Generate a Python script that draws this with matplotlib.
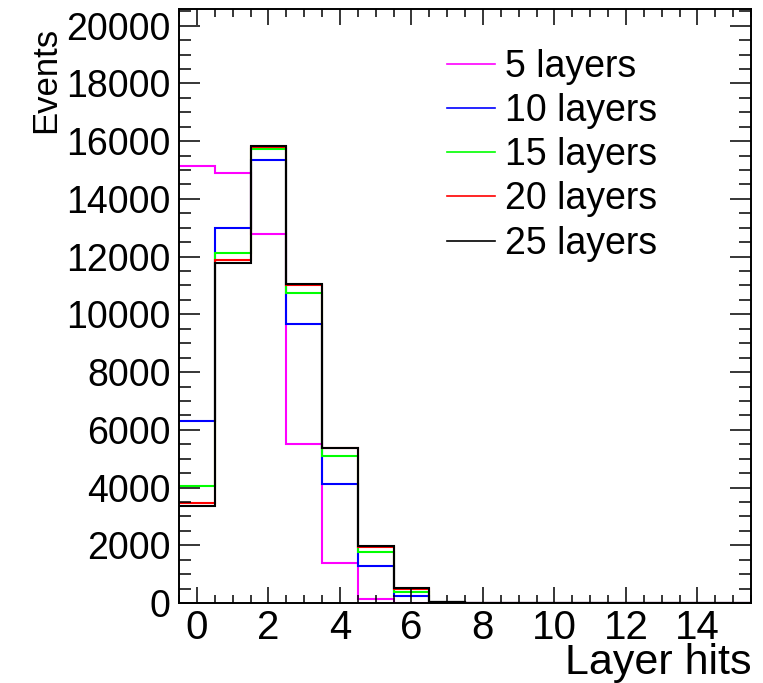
import matplotlib
matplotlib.use("Agg")
import matplotlib.pyplot as plt
from matplotlib.ticker import MultipleLocator
import numpy as np

# bin edges of the layer-hits histogram (unit bins centred on integers)
edges = np.arange(-0.5, 16.0, 1.0)

labels = ['5 layers', '10 layers', '15 layers', '20 layers', '25 layers']
colors = ['#ff00ff', '#0000ff', '#00ff00', '#ff0000', '#000000']

h5 = [15150, 14900, 12800, 5520, 1370, 140, 10, 0, 0, 0, 0, 0, 0, 0, 0, 0]
h10 = [6300, 13000, 15350, 9680, 4110, 1290, 240, 45, 0, 0, 0, 0, 0, 0, 0, 0]
h15 = [4050, 12120, 15730, 10750, 5080, 1780, 390, 40, 0, 0, 0, 0, 0, 0, 0, 0]
h20 = [3470, 11870, 15800, 11010, 5360, 1930, 480, 45, 0, 0, 0, 0, 0, 0, 0, 0]
h25 = [3370, 11770, 15840, 11040, 5370, 1960, 510, 45, 0, 0, 0, 0, 0, 0, 0, 0]

plt.rcParams['font.family'] = ['Liberation Sans', 'DejaVu Sans']

fig = plt.figure(figsize=(7.63, 6.83), dpi=100)
ax = fig.add_axes([0.2346, 0.1171, 0.7497, 0.869])

for h, c, lab in zip([h5, h10, h15, h20, h25], colors, labels):
    ax.stairs(h, edges, color=c, linewidth=1.5, label=lab, baseline=None)

ax.set_xlim(-0.5, 15.5)
ax.set_ylim(0, 20560)

ax.xaxis.set_major_locator(MultipleLocator(2))
ax.xaxis.set_minor_locator(MultipleLocator(0.5))
ax.yaxis.set_major_locator(MultipleLocator(2000))
ax.yaxis.set_minor_locator(MultipleLocator(500))

ax.tick_params(axis='both', which='both', direction='in', top=True, right=True, width=1.1)
ax.tick_params(axis='x', which='major', length=11.5, labelsize=29, pad=4)
ax.tick_params(axis='x', which='minor', length=6)
ax.tick_params(axis='y', which='major', length=15, labelsize=27, pad=6)
ax.tick_params(axis='y', which='minor', length=8.5)

for s in ax.spines.values():
    s.set_linewidth(1.4)

ax.set_xlabel('Layer hits', fontsize=31, loc='right')
ax.xaxis.set_label_coords(1.0, -0.1196)
ax.xaxis.label.set_va('baseline')
ax.set_ylabel('Events', fontsize=25, loc='top')
ax.yaxis.set_label_coords(-0.205, 0.971)

leg = ax.legend(loc='upper left', bbox_to_anchor=(0.4685, 0.934), frameon=False,
                fontsize=27, handlelength=1.28, handletextpad=0.27, labelspacing=0.22,
                borderpad=0, borderaxespad=0)
for line in leg.get_lines():
    line.set_linewidth(1.2)

fig.savefig('out.png', dpi=100)
